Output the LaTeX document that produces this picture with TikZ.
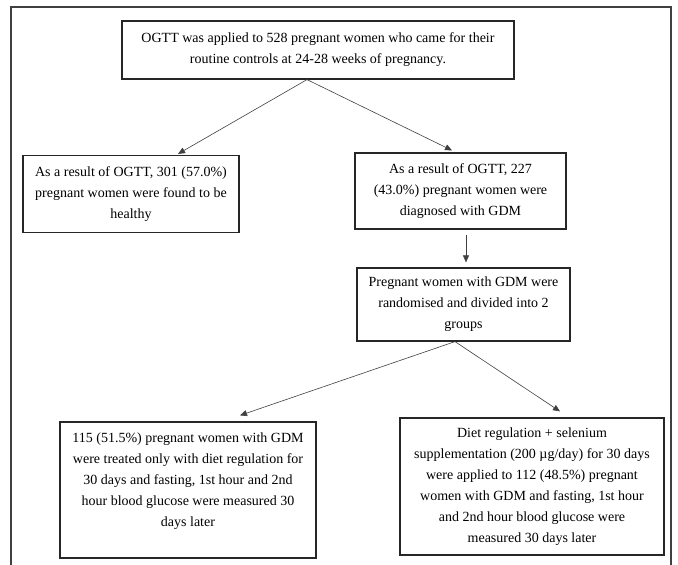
\documentclass[tikz,border=0pt]{standalone}
\usepackage{fontspec}
\setmainfont{Liberation Serif}
\usepackage{tikz}
\usetikzlibrary{arrows.meta,calc}

\begin{document}
\begin{tikzpicture}[
  x=1pt,y=-1pt,
  box/.style={rectangle,draw=black!85,line width=1.2pt,align=center,inner sep=4pt,
              font=\fontsize{14}{21}\selectfont,text=black},
  arr/.style={-{Triangle[length=7pt,width=6pt]},black!75,line width=0.6pt},
  frm/.style={draw=black!75,line width=1.1pt}
]
\useasboundingbox (0,0) rectangle (678,565);
\draw[frm](11,565)--(11,7)--(671,7)--(671,565);
\node[box,minimum width=392pt,minimum height=58pt] (top) at (318,50)
  {OGTT was applied to 528 pregnant women who came for their\\routine controls at 24-28 weeks of pregnancy.};
\node[box,minimum width=216pt,minimum height=77pt] (ok) at (131,194)
  {As a result of OGTT, 301 (57.0\%)\\pregnant women were found to be\\healthy};
\node[box,minimum width=211pt,minimum height=76pt] (gdm) at (460.5,191)
  {As a result of OGTT, 227\\(43.0\%) pregnant women were\\diagnosed with GDM};
\node[box,minimum width=213pt,minimum height=73pt] (rnd) at (463.5,304.5)
  {Pregnant women with GDM were\\randomised and divided into 2\\groups};
\node[box,minimum width=256pt,minimum height=136pt] (diet) at (188,490)
  {115 (51.5\%) pregnant women with GDM\\were treated only with diet regulation for\\30 days and fasting, 1st hour and 2nd\\hour blood glucose were measured 30\\days later\\\mbox{}};
\node[box,minimum width=264pt,minimum height=137pt] (dse) at (532,486.5)
  {Diet regulation + selenium\\supplementation (200 µg/day) for 30 days\\were applied to 112 (48.5\%) pregnant\\women with GDM and fasting, 1st hour\\and 2nd hour blood glucose were\\measured 30 days later};
\draw[arr]($(top.south)+(-11,0)$)--($(ok.north)+(47,-1)$);
\draw[arr]($(top.south)+(-11,0)$)--($(gdm.north)+(-8.5,-2)$);
\draw[arr]($(gdm.south)+(5.5,5)$)--($(rnd.north)+(2.5,-5)$);
\draw[arr]($(rnd.south)+(-8.5,0)$)--($(diet.north)+(52,-6)$);
\draw[arr]($(rnd.south)+(-8.5,0)$)--($(dse.north)+(28,-6)$);
\end{tikzpicture}
\end{document}
